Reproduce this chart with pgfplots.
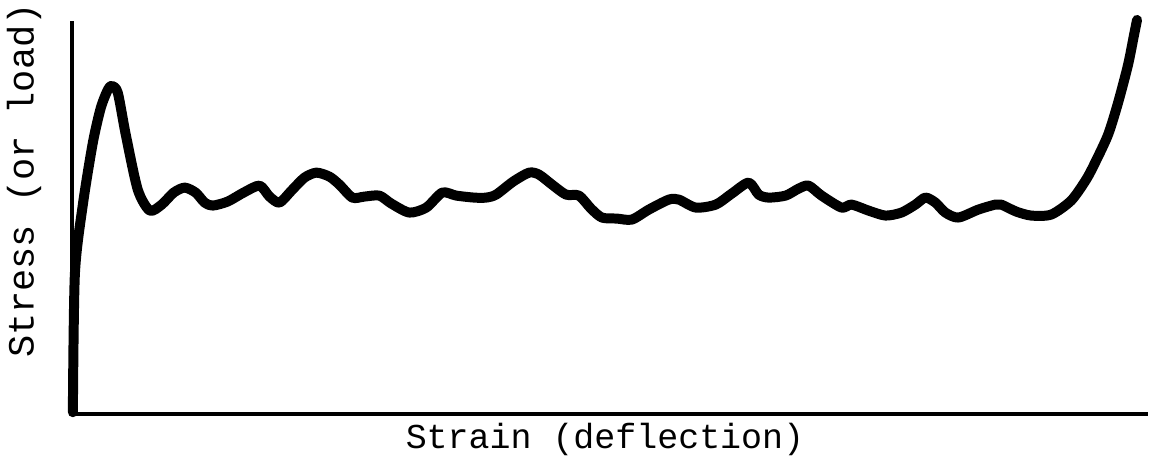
\documentclass[border=0pt]{standalone}
\usepackage{pgfplots}
\pgfplotsset{compat=1.18}
\usepackage{fontspec}
\setmainfont{Liberation Mono}
\begin{document}
\begin{tikzpicture}
\begin{axis}[
  scale only axis,
  width=1078bp, height=394bp,
  xmin=72, xmax=1150, ymin=0, ymax=394,
  axis lines=left,
  axis line style={-, line width=4bp},
  xtick=\empty, ytick=\empty,
  clip=false,
]
\addplot[black, line width=10bp, line cap=round, line join=round, smooth, tension=0.45] coordinates {
(73,2) (75,140) (83,210) (93,272) (101,307) (108,325) (112,329) (118,322) (126,280) (138,225) (150,204)
(162,210) (174,222) (185,227) (196,222) (205,212) (213,209) (228,213) (244,222) (260,229)
(270,218) (280,212) (292,224) (305,237) (317,242) (330,238) (340,230) (353,217) (365,218)
(380,219) (392,211) (410,202) (427,207) (443,222) (457,219) (475,217) (487,217) (497,220)
(514,233) (530,242) (540,240) (553,230) (567,220) (580,219) (592,206) (603,197) (618,196)
(633,195) (650,205) (670,215) (680,215) (697,207) (717,210) (733,221) (750,232) (760,220)
(770,217) (787,219) (800,226) (810,229) (823,219) (843,207) (853,210) (870,204) (887,199)
(903,202) (917,210) (927,217) (937,212) (947,202) (960,197) (980,205) (997,210) (1003,210)
(1018,203) (1033,199) (1053,200) (1073,214) (1088,235) (1097,252) (1110,280) (1120,312)
(1130,350) (1136,380) (1139,395)
};
\node[font=\fontsize{35bp}{40bp}\selectfont, anchor=center] at (axis cs:606,-25) {Strain (deflection)};
\node[font=\fontsize{37bp}{40bp}\selectfont, anchor=center, rotate=90] at (axis cs:24,234) {Stress (or load)};
\path (axis cs:0,-39) rectangle (axis cs:1150,412);
\end{axis}
\end{tikzpicture}
\end{document}
